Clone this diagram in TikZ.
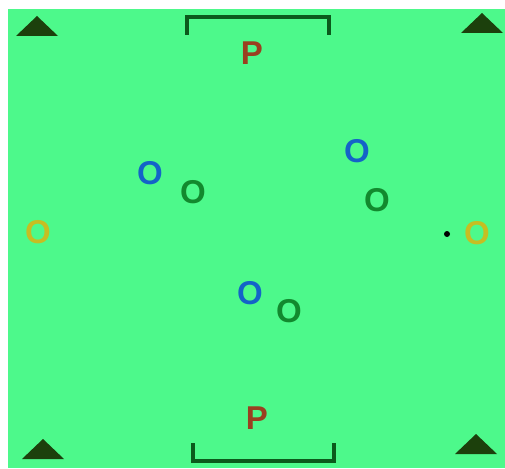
\documentclass[tikz,border=0pt]{standalone}
\usepackage{fontspec}
\setmainfont{Liberation Sans}
\usepackage{tikz}
\usetikzlibrary{positioning}
\definecolor{pitchGreen}{HTML}{4DF98B}
\definecolor{coneDark}{HTML}{1C400C}
\definecolor{goalDark}{HTML}{0B5A1C}
\definecolor{keeperBrown}{HTML}{9A4020}
\definecolor{teamBlue}{HTML}{1463C8}
\definecolor{teamGreen}{HTML}{12892E}
\definecolor{jokerYellow}{HTML}{C6BE22}

\begin{document}
\begin{tikzpicture}[x=1pt, y=-1pt,
    player/.style={font=\fontsize{33}{33}\selectfont\bfseries, inner sep=0pt},
    blueplayer/.style={player, text=teamBlue},
    greenplayer/.style={player, text=teamGreen},
    joker/.style={player, text=jokerYellow},
    keeper/.style={player, text=keeperBrown},
    goalline/.style={draw=goalDark, line width=4pt},
    cone/.style={fill=coneDark}]

  % pitch
  \fill[white] (0,0) rectangle (505,468);
  \fill[pitchGreen] (8,9) rectangle (505,468);
  \useasboundingbox (0,0) rectangle (505,468);

  % corner cones
  \foreach \cx/\cy in {37/16, 482/13, 43/439, 476/434} {
    \fill[cone] (\cx,\cy) -- ++(-21,20) -- ++(42,0) -- cycle;
  }

  % goals
  \draw[goalline] (187,35) -- (187,17) -- (329,17) -- (329,35);
  \draw[goalline] (193,443) -- (193,461) -- (334,461) -- (334,443);
  \node[keeper] (ptop) at (252,53)  {P};
  \node[keeper] (pbot) at (257,418) {P};

  % players
  \node[blueplayer]  (b1) at (150,173) {O};
  \node[greenplayer] (g1) at (193,192) {O};
  \node[blueplayer]  (b2) at (357,151) {O};
  \node[greenplayer] (g2) at (377,200) {O};
  \node[blueplayer]  (b3) at (250,293) {O};
  \node[greenplayer] (g3) at (289,311) {O};

  % neutral players
  \node[joker] (jl) at (38,232)  {O};
  \node[joker] (jr) at (477,233) {O};
  \fill (447,234) circle (3);
\end{tikzpicture}
\end{document}
